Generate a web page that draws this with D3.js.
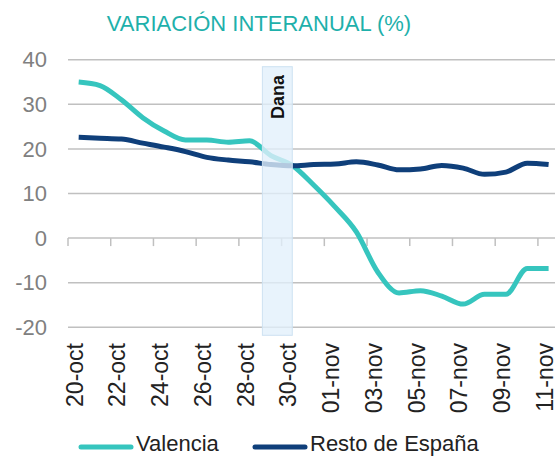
<!DOCTYPE html>
<html>
<head>
<meta charset="utf-8">
<script src="https://cdn.jsdelivr.net/npm/d3@7.9.0/dist/d3.min.js"></script>
<style>
  html, body { margin: 0; padding: 0; background: #fff; }
  svg { display: block; overflow: hidden; font-family: 'Liberation Sans', Arial, sans-serif; }
</style>
</head>
<body>
<svg id="chart" width="555" height="456"></svg>
<script>
// categories (daily)
const dates = ['20-oct','21-oct','22-oct','23-oct','24-oct','25-oct','26-oct','27-oct','28-oct','29-oct','30-oct','31-oct',
  '01-nov','02-nov','03-nov','04-nov','05-nov','06-nov','07-nov','08-nov','09-nov','10-nov','11-nov'];

const valencia = [35, 34.2, 31, 27, 24, 22, 22, 21.5, 21.8, 18.5, 16.3, 11.9, 7.0, 1.4, -7.6, -12.3, -11.8, -13.0, -14.8, -12.6, -12.6, -6.8, -6.8];
const resto    = [22.6, 22.4, 22.2, 21.3, 20.4, 19.4, 18.1, 17.5, 17.1, 16.5, 16.2, 16.5, 16.6, 17.1, 16.4, 15.3, 15.5, 16.3, 15.7, 14.3, 14.8, 16.8, 16.5];

const yTicks = [40, 30, 20, 10, 0, -10, -20];

// shaded event band, in category index units
const danaLabel = 'Dana';
const danaFrom = 8.6, danaTo = 10.0;

const series = [
  { name: 'Valencia', values: valencia, color: '#36c5be' },
  { name: 'Resto de España', values: resto, color: '#0f3f7a' }
];

const svg = d3.select('#chart');
const margin = { left: 68, top: 60 };
const step = 21.36;
const plotW = step * dates.length;

const x = d3.scaleBand().domain(dates).range([margin.left, margin.left + plotW]).padding(0);
const cx = d => x(d) + x.bandwidth() / 2;
const xi = d3.scaleLinear().domain([-0.5, dates.length - 0.5]).range([margin.left, margin.left + plotW]);

const y = d3.scaleLinear().domain([-20, 40]).range([327.3, 59.7]);

// title
svg.append('text')
  .attr('x', 259).attr('y', 31)
  .attr('text-anchor', 'middle')
  .style('font-size', '22px')
  .style('fill', '#1eb0ab')
  .text('VARIACIÓN INTERANUAL (%)');

// gridlines
svg.append('g').selectAll('line').data(yTicks).join('line')
  .attr('x1', margin.left).attr('x2', margin.left + plotW)
  .attr('y1', d => y(d)).attr('y2', d => y(d))
  .attr('stroke', '#c0c0c0').attr('stroke-width', 1.5);

// y labels
svg.append('g').selectAll('text').data(yTicks).join('text')
  .attr('x', 47).attr('y', d => y(d)).attr('dy', '0.35em')
  .attr('text-anchor', 'end')
  .style('font-size', '22px').style('fill', '#808080')
  .text(d => d);

// category ticks on zero line (every 2 days, at category boundaries)
const tickIdx = d3.range(-0.5, dates.length, 2);
svg.append('g').selectAll('line').data(tickIdx).join('line')
  .attr('x1', d => xi(d)).attr('x2', d => xi(d))
  .attr('y1', y(0)).attr('y2', y(0) + 8)
  .attr('stroke', '#c0c0c0').attr('stroke-width', 1.5);

// series lines
const line = d3.line()
  .x((d, i) => cx(dates[i]))
  .y(d => y(d))
  .curve(d3.curveMonotoneX);

series.forEach(s => {
  svg.append('path')
    .datum(s.values)
    .attr('fill', 'none')
    .attr('stroke', s.color)
    .attr('stroke-width', 5)
    .attr('stroke-linejoin', 'round')
    .attr('d', line);
});

// Dana band (semi-transparent, above lines)
svg.append('rect')
  .attr('x', xi(danaFrom)).attr('width', xi(danaTo) - xi(danaFrom))
  .attr('y', y(40) + 7).attr('height', y(-20) + 8 - (y(40) + 7))
  .attr('fill', '#e2f0fb').attr('fill-opacity', 0.78)
  .attr('stroke', '#cde2f2').attr('stroke-width', 1);

svg.append('text')
  .attr('transform', `translate(${(xi(danaFrom) + xi(danaTo)) / 2},75) rotate(-90)`)
  .attr('text-anchor', 'end').attr('dy', '0.35em')
  .style('font-size', '18px').style('font-weight', 'bold').style('fill', '#111')
  .text(danaLabel);

// x labels (every other day)
svg.append('g').selectAll('text').data(dates.filter((d, i) => i % 2 === 0)).join('text')
  .attr('transform', d => `translate(${cx(d) - 4},343) rotate(-90)`)
  .attr('text-anchor', 'end').attr('dy', '0.35em')
  .style('font-size', '23px').style('fill', '#222')
  .text(d => d);

// legend
const legendX = [81, 255];
series.forEach((s, i) => {
  const g = svg.append('g').attr('transform', `translate(${legendX[i]},447)`);
  g.append('line').attr('x1', 0).attr('x2', 50)
    .attr('stroke', s.color).attr('stroke-width', 5).attr('stroke-linecap', 'round');
  g.append('text').attr('x', 55).attr('y', 4)
    .style('font-size', '22px').style('fill', '#222')
    .text(s.name);
});
</script>
</body>
</html>
